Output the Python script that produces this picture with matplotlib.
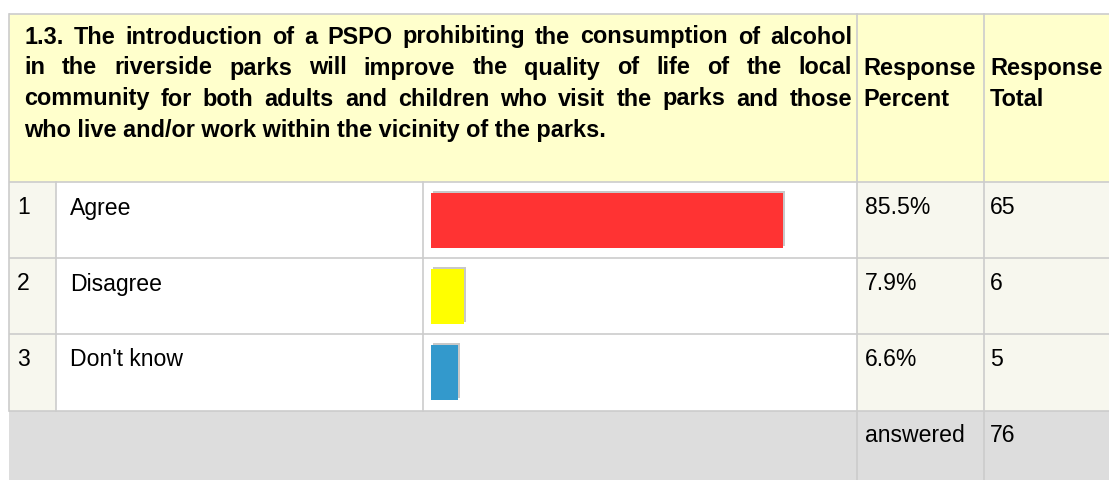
import matplotlib.pyplot as plt
import matplotlib.patheffects as pe
from matplotlib.patches import Rectangle

# question text (first three lines are justified in the original)
question_lines = [
    "1.3. The introduction of a PSPO prohibiting the consumption of alcohol",
    "in the riverside parks will improve the quality of life of the local",
    "community for both adults and children who visit the parks and those",
    "who live and/or work within the vicinity of the parks.",
]
col_percent_title = ["Response", "Percent"]
col_total_title = ["Response", "Total"]

row_numbers = ["1", "2", "3"]
answers = ["Agree", "Disagree", "Don't know"]
percents = [85.5, 7.9, 6.6]
totals = [65, 6, 5]
answered_label = "answered"
answered_total = 76
bar_colors = ["#ff3333", "#ffff00", "#3399cc"]

W, H = 1109, 480
FONT = "Liberation Sans"
LINE = "#cccccc"


def px(size):
    return size * 72 / 100


def main():
    fig = plt.figure(figsize=(W / 100, H / 100), dpi=100)
    ax = fig.add_axes([0, 0, 1, 1])
    ax.set_xlim(0, W)
    ax.set_ylim(H, 0)
    ax.axis("off")

    # column edges and row edges in pixels
    xs = [9, 56, 423, 857, 984, W]
    ys = [14, 182, 258, 334, 411, H]

    # backgrounds
    ax.add_patch(Rectangle((xs[0], ys[0]), W - xs[0], ys[1] - ys[0], fc="#ffffcc", ec="none"))
    ax.add_patch(Rectangle((xs[0], ys[1]), xs[1] - xs[0], ys[4] - ys[1], fc="#f7f7ee", ec="none"))
    ax.add_patch(Rectangle((xs[3], ys[1]), W - xs[3], ys[4] - ys[1], fc="#f7f7ee", ec="none"))
    ax.add_patch(Rectangle((xs[0], ys[4]), W - xs[0], H - ys[4], fc="#dddddd", ec="none"))

    # grid lines
    lw = 1.2
    for y in ys[:5]:
        ax.plot([xs[0], W], [y, y], color=LINE, lw=lw, solid_capstyle="butt")
    ax.plot([xs[0], xs[0]], [ys[0], ys[4]], color=LINE, lw=lw)
    for x in xs[1:3]:
        ax.plot([x, x], [ys[1], ys[4]], color=LINE, lw=lw)
    for x in xs[3:5]:
        ax.plot([x, x], [ys[0], H], color=LINE, lw=lw)

    # question header, justified
    renderer = fig.canvas.get_renderer()
    left, right = 24, 852
    line_y = [37, 68, 99, 130]
    hsize = px(23.5)
    for i, line in enumerate(question_lines):
        if i == len(question_lines) - 1:
            ax.text(left, line_y[i], line, fontsize=hsize, fontweight="bold",
                    family=FONT, va="center", ha="left")
            continue
        words = line.split(" ")
        texts = [ax.text(0, line_y[i], w, fontsize=hsize, fontweight="bold",
                         family=FONT, va="center", ha="left") for w in words]
        widths = [t.get_window_extent(renderer).width for t in texts]
        gap = (right - left - sum(widths)) / (len(words) - 1)
        x = left
        for t, wd in zip(texts, widths):
            t.set_x(x)
            x += wd + gap

    for lines, x0 in ((col_percent_title, 863), (col_total_title, 990)):
        for j, s in enumerate(lines):
            ax.text(x0, line_y[1 + j], s, fontsize=hsize, fontweight="bold",
                    family=FONT, va="center", ha="left")

    # body text
    bsize = px(23)
    row_text_y = [208, 284, 360]
    for i in range(len(answers)):
        y = row_text_y[i]
        ax.text(17, y, row_numbers[i], fontsize=bsize, family=FONT, va="center")
        ax.text(70, y, answers[i], fontsize=bsize, family=FONT, va="center")
        ax.text(865, y, f"{percents[i]:.1f}%", fontsize=bsize, family=FONT, va="center")
        ax.text(990, y, str(totals[i]), fontsize=bsize, family=FONT, va="center")
    ax.text(865, 435, answered_label, fontsize=bsize, family=FONT, va="center")
    ax.text(990, 435, str(answered_total), fontsize=bsize, family=FONT, va="center")

    # bars
    bx0, bx1 = 431, 843
    bax = fig.add_axes([bx0 / W, 1 - ys[4] / H, (bx1 - bx0) / W, (ys[4] - ys[1]) / H])
    bax.set_xlim(0, 100)
    bax.set_ylim(len(answers) - 0.5, -0.5)
    bax.axis("off")
    bax.barh(range(len(answers)), percents, height=0.72, color=bar_colors,
             path_effects=[pe.SimplePatchShadow(offset=(1.5, 1.5), shadow_rgbFace="#c8c8c8", alpha=1),
                           pe.Normal()])

    fig.savefig("out.png", dpi=100)


if __name__ == "__main__":
    main()
